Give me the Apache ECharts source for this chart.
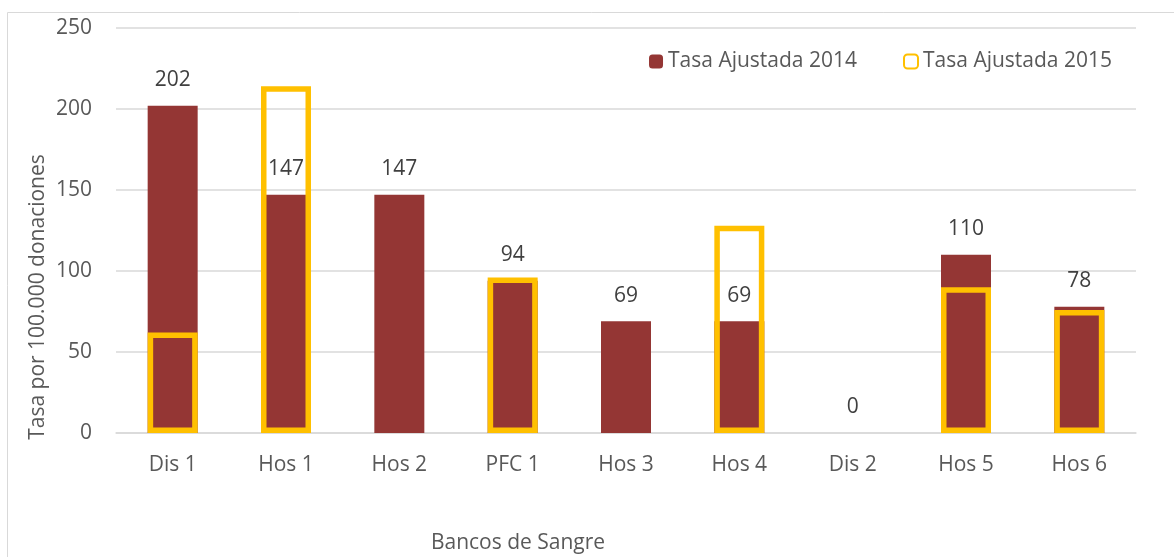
<!DOCTYPE html>
<html>
<head>
<meta charset="utf-8">
<script src="https://cdn.jsdelivr.net/npm/echarts@6/dist/echarts.min.js"></script>
<style>
  html, body { margin: 0; padding: 0; background: #fff; }
  #chart { width: 1174px; height: 557px; }
</style>
</head>
<body>
<div id="chart"></div>
<script>
// datos
const categories = ['Dis 1', 'Hos 1', 'Hos 2', 'PFC 1', 'Hos 3', 'Hos 4', 'Dis 2', 'Hos 5', 'Hos 6']
const tasa2014 = [202, 147, 147, 94, 69, 69, 0, 110, 78]
const tasa2015 = [62, 214, null, 96, null, 128, null, 90, 76]
const yTicks = [0, 50, 100, 150, 200, 250]

const font = '"Open Sans", sans-serif'
const myChart = echarts.init(document.getElementById('chart'))

const option = {
  animation: false,
  textStyle: { fontFamily: font },
  legend: {
    data: ['Tasa Ajustada 2014', 'Tasa Ajustada 2015'],
    right: 57,
    top: 46,
    itemWidth: 14,
    itemHeight: 14,
    itemGap: 46,
    textStyle: { fontSize: 21, color: '#595959', fontFamily: font }
  },
  grid: {
    left: 116,
    right: 38,
    top: 28,
    bottom: 124
  },
  xAxis: {
    type: 'category',
    data: categories,
    axisLine: { lineStyle: { color: '#d9d9d9', width: 1.5 } },
    axisTick: { show: false },
    axisLabel: { fontSize: 21, color: '#595959', margin: 22 }
  },
  yAxis: {
    type: 'value',
    min: yTicks[0],
    max: yTicks[yTicks.length - 1],
    interval: 50,
    axisLine: { show: false },
    axisTick: { show: false },
    axisLabel: { fontSize: 21, color: '#595959', margin: 24 },
    splitLine: { lineStyle: { color: '#d9d9d9', width: 1.5 } }
  },
  graphic: [
    {
      type: 'rect',
      shape: { x: 7.5, y: 12.5, width: 1200, height: 600 },
      style: { fill: 'none', stroke: '#d9d9d9', lineWidth: 1 },
      z: -10
    },
    {
      type: 'text',
      x: 38,
      y: 297,
      rotation: Math.PI / 2,
      style: {
        text: 'Tasa por 100.000 donaciones',
        fontSize: 21,
        fontFamily: font,
        fill: '#595959',
        align: 'center',
        verticalAlign: 'middle'
      }
    },
    {
      type: 'text',
      x: 518,
      y: 543,
      style: {
        text: 'Bancos de Sangre',
        fontSize: 21,
        fontFamily: font,
        fill: '#595959',
        align: 'center',
        verticalAlign: 'middle'
      }
    }
  ],
  series: [
    {
      name: 'Tasa Ajustada 2014',
      type: 'bar',
      data: tasa2014,
      barWidth: 50,
      barGap: '-100%',
      itemStyle: { color: '#943634' },
      label: {
        show: true,
        position: 'top',
        distance: 15,
        fontSize: 21,
        color: '#404040'
      }
    },
    {
      name: 'Tasa Ajustada 2015',
      type: 'bar',
      data: tasa2015,
      barWidth: 50,
      barGap: '-100%',
      z: 3,
      itemStyle: {
        color: 'rgba(0,0,0,0)',
        borderColor: '#ffc000',
        borderWidth: 5.5
      }
    }
  ]
}

myChart.setOption(option)
</script>
</body>
</html>
